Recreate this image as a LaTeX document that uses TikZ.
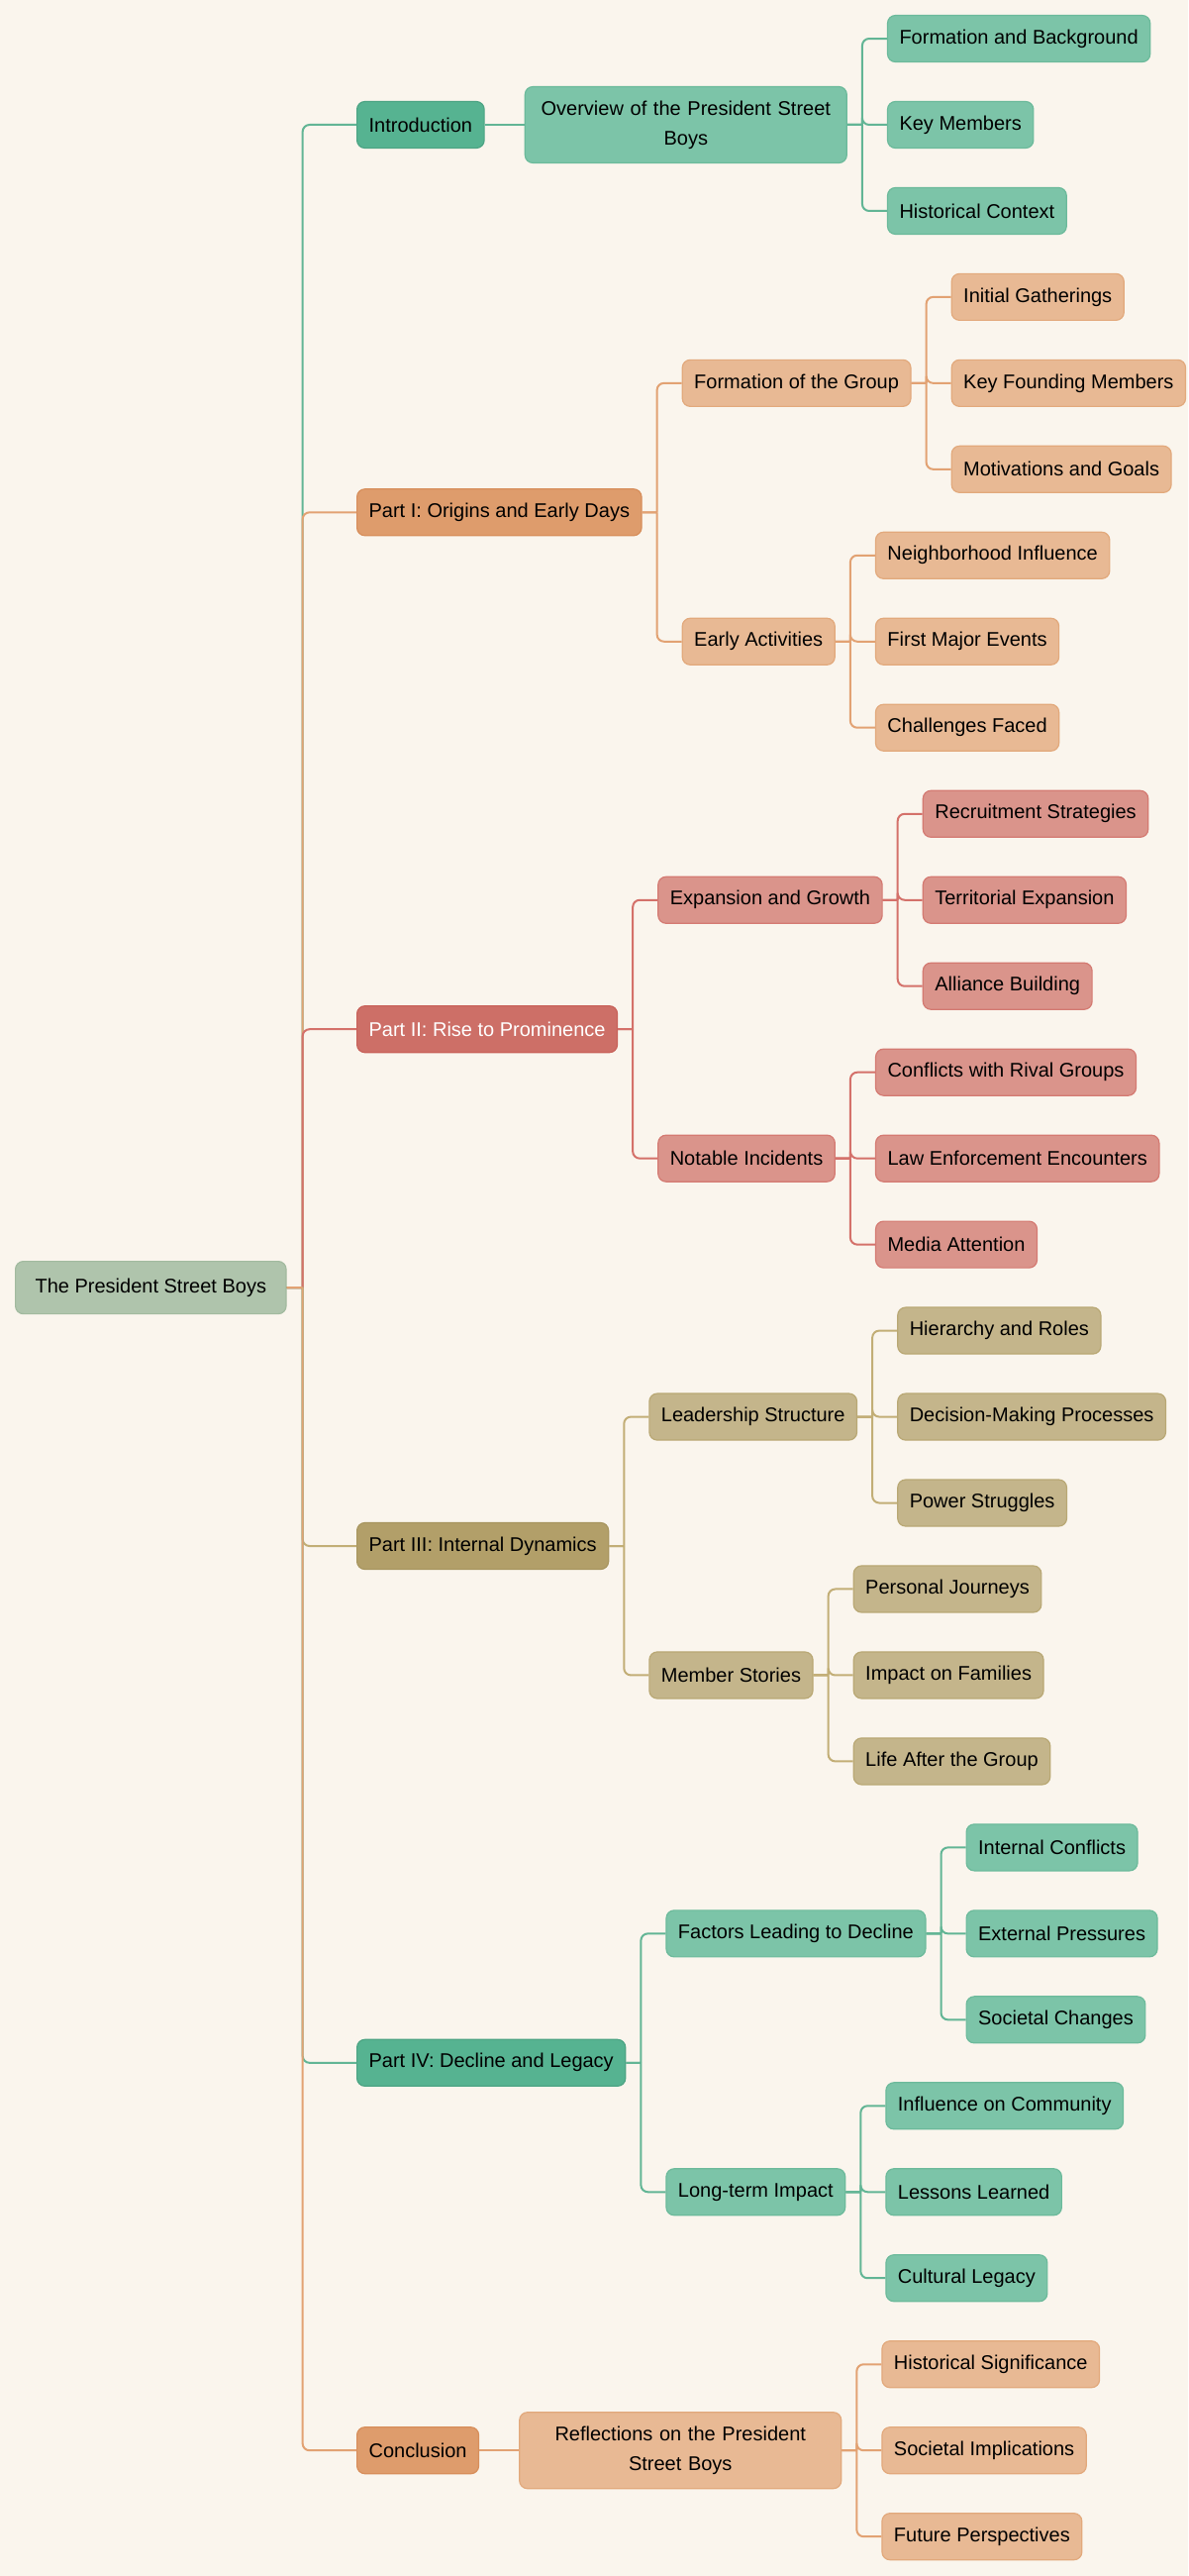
\documentclass[tikz,border=0pt]{standalone}
\usepackage{fontspec}
\setmainfont{Liberation Sans}
\usetikzlibrary{positioning}
\definecolor{PaperCream}{HTML}{FAF5ED}
\definecolor{RootSage}{HTML}{AFC4AC}
\definecolor{RootSageDark}{HTML}{A2BA9F}
\definecolor{DeepGreen}{HTML}{56B391}
\definecolor{DeepGreenDark}{HTML}{4DA484}
\definecolor{SoftGreen}{HTML}{7CC4A8}
\definecolor{SoftGreenDark}{HTML}{6CBA9B}
\definecolor{GreenLine}{HTML}{62B595}
\definecolor{DeepOrange}{HTML}{DE9C6C}
\definecolor{DeepOrangeDark}{HTML}{D78E5B}
\definecolor{SoftOrange}{HTML}{E8B994}
\definecolor{SoftOrangeDark}{HTML}{E2A97C}
\definecolor{OrangeLine}{HTML}{E2A273}
\definecolor{DeepRed}{HTML}{CD6F67}
\definecolor{DeepRedDark}{HTML}{C8625A}
\definecolor{SoftRed}{HTML}{DA948B}
\definecolor{SoftRedDark}{HTML}{D47A72}
\definecolor{RedLine}{HTML}{D4716A}
\definecolor{DeepOlive}{HTML}{B29F69}
\definecolor{DeepOliveDark}{HTML}{A89660}
\definecolor{SoftOlive}{HTML}{C4B58B}
\definecolor{SoftOliveDark}{HTML}{B9A874}
\definecolor{OliveLine}{HTML}{C2AE76}

\tikzset{
  box/.style={rounded corners=8pt, line width=1.2pt, inner xsep=12pt, inner ysep=0pt,
    minimum height=47pt, font=\fontsize{20}{30}\selectfont, text=black},
  widebox/.style={box, text width=301pt, align=center, minimum height=77pt},
  rootbox/.style={box, inner xsep=20pt, minimum height=53pt, fill=RootSage, draw=RootSageDark},
  greenpart/.style={box, fill=DeepGreen, draw=DeepGreenDark},
  greensub/.style={box, fill=SoftGreen, draw=SoftGreenDark},
  orangepart/.style={box, fill=DeepOrange, draw=DeepOrangeDark},
  orangesub/.style={box, fill=SoftOrange, draw=SoftOrangeDark},
  redpart/.style={box, fill=DeepRed, draw=DeepRedDark, text=white},
  redsub/.style={box, fill=SoftRed, draw=SoftRedDark},
  olivepart/.style={box, fill=DeepOlive, draw=DeepOliveDark},
  olivesub/.style={box, fill=SoftOlive, draw=SoftOliveDark},
  link/.style={line width=2pt, rounded corners=7pt},
}

\begin{document}
\begin{tikzpicture}[x=1pt, y=1pt]
    \fill[PaperCream] (0,0) rectangle (1200,-2601);
    \useasboundingbox (0,0) rectangle (1200,-2601);

    % root and main parts
    \node[rootbox, anchor=west] (root) at (15,-1300.1) {The President Street Boys};
    \node[greenpart, anchor=west] (intro) at (360,-126) {Introduction};
    \node[orangepart, anchor=west] (parti) at (360,-517.3) {Part I: Origins and Early Days};
    \node[redpart, anchor=west] (partii) at (360,-1039.2) {Part II: Rise to Prominence};
    \node[olivepart, anchor=west] (partiii) at (360,-1561) {Part III: Internal Dynamics};
    \node[greenpart, anchor=west] (partiv) at (360,-2082.8) {Part IV: Decline and Legacy};
    \node[orangepart, anchor=west] (concl) at (360,-2474.2) {Conclusion};

    % introduction
    \node[greensub, widebox, right=40pt of intro] (overview) {Overview of the President Street\\Boys};
    \node[greensub, right=40pt of overview, yshift=86.97pt] (background) {Formation and Background};
    \node[greensub, right=40pt of overview] (keymembers) {Key Members};
    \node[greensub, right=40pt of overview, yshift=-86.97pt] (context) {Historical Context};

    % part I
    \node[orangesub, right=40pt of parti, yshift=130.45pt] (formation) {Formation of the Group};
    \node[orangesub, right=40pt of parti, yshift=-130.45pt] (earlyact) {Early Activities};
    \node[orangesub, right=40pt of formation, yshift=86.97pt] (gatherings) {Initial Gatherings};
    \node[orangesub, right=40pt of formation] (founders) {Key Founding Members};
    \node[orangesub, right=40pt of formation, yshift=-86.97pt] (motives) {Motivations and Goals};
    \node[orangesub, right=40pt of earlyact, yshift=86.97pt] (neighborhood) {Neighborhood Influence};
    \node[orangesub, right=40pt of earlyact] (firstevents) {First Major Events};
    \node[orangesub, right=40pt of earlyact, yshift=-86.97pt] (challenges) {Challenges Faced};

    % part II
    \node[redsub, right=40pt of partii, yshift=130.45pt] (expansion) {Expansion and Growth};
    \node[redsub, right=40pt of partii, yshift=-130.45pt] (incidents) {Notable Incidents};
    \node[redsub, right=40pt of expansion, yshift=86.97pt] (recruit) {Recruitment Strategies};
    \node[redsub, right=40pt of expansion] (territory) {Territorial Expansion};
    \node[redsub, right=40pt of expansion, yshift=-86.97pt] (alliance) {Alliance Building};
    \node[redsub, right=40pt of incidents, yshift=86.97pt] (rivals) {Conflicts with Rival Groups};
    \node[redsub, right=40pt of incidents] (lawenf) {Law Enforcement Encounters};
    \node[redsub, right=40pt of incidents, yshift=-86.97pt] (media) {Media Attention};

    % part III
    \node[olivesub, right=40pt of partiii, yshift=130.45pt] (leadership) {Leadership Structure};
    \node[olivesub, right=40pt of partiii, yshift=-130.45pt] (stories) {Member Stories};
    \node[olivesub, right=40pt of leadership, yshift=86.97pt] (hierarchy) {Hierarchy and Roles};
    \node[olivesub, right=40pt of leadership] (decisions) {Decision-Making Processes};
    \node[olivesub, right=40pt of leadership, yshift=-86.97pt] (power) {Power Struggles};
    \node[olivesub, right=40pt of stories, yshift=86.97pt] (journeys) {Personal Journeys};
    \node[olivesub, right=40pt of stories] (families) {Impact on Families};
    \node[olivesub, right=40pt of stories, yshift=-86.97pt] (afterlife) {Life After the Group};

    % part IV
    \node[greensub, right=40pt of partiv, yshift=130.45pt] (decline) {Factors Leading to Decline};
    \node[greensub, right=40pt of partiv, yshift=-130.45pt] (impact) {Long-term Impact};
    \node[greensub, right=40pt of decline, yshift=86.97pt] (internal) {Internal Conflicts};
    \node[greensub, right=40pt of decline] (external) {External Pressures};
    \node[greensub, right=40pt of decline, yshift=-86.97pt] (societal) {Societal Changes};
    \node[greensub, right=40pt of impact, yshift=86.97pt] (community) {Influence on Community};
    \node[greensub, right=40pt of impact] (lessons) {Lessons Learned};
    \node[greensub, right=40pt of impact, yshift=-86.97pt] (legacy) {Cultural Legacy};

    % conclusion
    \node[orangesub, widebox, right=40pt of concl] (reflect) {Reflections on the President\\Street Boys};
    \node[orangesub, right=40pt of reflect, yshift=86.97pt] (significance) {Historical Significance};
    \node[orangesub, right=40pt of reflect] (implications) {Societal Implications};
    \node[orangesub, right=40pt of reflect, yshift=-86.97pt] (future) {Future Perspectives};

    % connectors: stub, then a fresh subpath so only the far corner is rounded
    \draw[link, GreenLine] (root.east) -- ++(16,0) ++(0,0) |- (intro.west);
    \draw[link, OrangeLine] (root.east) -- ++(16,0) ++(0,0) |- (parti.west);
    \draw[link, RedLine] (root.east) -- ++(16,0) ++(0,0) |- (partii.west);
    \draw[link, OliveLine] (root.east) -- ++(16,0) ++(0,0) |- (partiii.west);
    \draw[link, GreenLine] (root.east) -- ++(16,0) ++(0,0) |- (partiv.west);
    \draw[link, OrangeLine] (root.east) -- ++(16,0) ++(0,0) |- (concl.west);

    \draw[link, GreenLine] (intro.east) -- (overview.west);
    \foreach \leaf in {background, keymembers, context}
      \draw[link, GreenLine] (overview.east) -- ++(15,0) ++(0,0) |- (\leaf.west);

    \foreach \sub in {formation, earlyact}
      \draw[link, OrangeLine] (parti.east) -- ++(15,0) ++(0,0) |- (\sub.west);
    \foreach \leaf in {gatherings, founders, motives}
      \draw[link, OrangeLine] (formation.east) -- ++(15,0) ++(0,0) |- (\leaf.west);
    \foreach \leaf in {neighborhood, firstevents, challenges}
      \draw[link, OrangeLine] (earlyact.east) -- ++(15,0) ++(0,0) |- (\leaf.west);

    \foreach \sub in {expansion, incidents}
      \draw[link, RedLine] (partii.east) -- ++(15,0) ++(0,0) |- (\sub.west);
    \foreach \leaf in {recruit, territory, alliance}
      \draw[link, RedLine] (expansion.east) -- ++(15,0) ++(0,0) |- (\leaf.west);
    \foreach \leaf in {rivals, lawenf, media}
      \draw[link, RedLine] (incidents.east) -- ++(15,0) ++(0,0) |- (\leaf.west);

    \foreach \sub in {leadership, stories}
      \draw[link, OliveLine] (partiii.east) -- ++(15,0) ++(0,0) |- (\sub.west);
    \foreach \leaf in {hierarchy, decisions, power}
      \draw[link, OliveLine] (leadership.east) -- ++(15,0) ++(0,0) |- (\leaf.west);
    \foreach \leaf in {journeys, families, afterlife}
      \draw[link, OliveLine] (stories.east) -- ++(15,0) ++(0,0) |- (\leaf.west);

    \foreach \sub in {decline, impact}
      \draw[link, GreenLine] (partiv.east) -- ++(15,0) ++(0,0) |- (\sub.west);
    \foreach \leaf in {internal, external, societal}
      \draw[link, GreenLine] (decline.east) -- ++(15,0) ++(0,0) |- (\leaf.west);
    \foreach \leaf in {community, lessons, legacy}
      \draw[link, GreenLine] (impact.east) -- ++(15,0) ++(0,0) |- (\leaf.west);

    \draw[link, OrangeLine] (concl.east) -- (reflect.west);
    \foreach \leaf in {significance, implications, future}
      \draw[link, OrangeLine] (reflect.east) -- ++(15,0) ++(0,0) |- (\leaf.west);
  \end{tikzpicture}
\end{document}
